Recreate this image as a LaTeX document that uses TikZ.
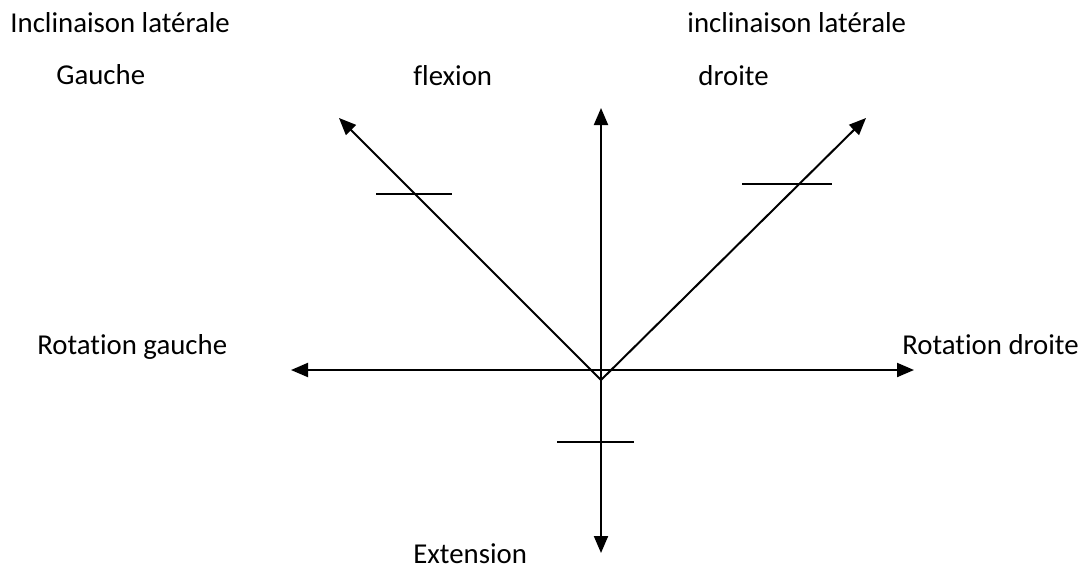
\documentclass[tikz,border=0pt]{standalone}
\usepackage{fontspec}
\setmainfont{Carlito}[Ligatures=NoCommon]
\usetikzlibrary{arrows.meta,positioning}

\begin{document}
\begin{tikzpicture}[
    x=0.5pt, y=-0.5pt,
    axis/.style={line width=1pt, -{Triangle[length=8.5pt,width=7pt]}},
    tick/.style={line width=1pt},
    lab/.style={font=\fontsize{14.4}{17}\selectfont, inner sep=0pt, anchor=base west}
]
\useasboundingbox (0,0) rectangle (1086,574);
% origin and axis ends
\coordinate (O) at (601,370);
\coordinate (V) at (601,380);
\coordinate (up) at (601,108);
\coordinate (down) at (601,553);
\coordinate (left) at (291,370);
\coordinate (right) at (914,370);
\coordinate (ul) at (339,118);
\coordinate (ur) at (866,118);

\draw[axis] (O) -- (up);
\draw[axis] (O) -- (down);
\draw[axis] (O) -- (left);
\draw[axis] (O) -- (right);
\draw[axis] (V) -- (ul);
\draw[axis] (V) -- (ur);

% ticks
\coordinate (tl1) at (376,194);
\coordinate (tl2) at (452,194);
\coordinate (tr1) at (742,184);
\coordinate (tr2) at (832,184);
\coordinate (tb1) at (557,442);
\coordinate (tb2) at (634,442);
\draw[tick] (tl1) -- (tl2);
\draw[tick] (tr1) -- (tr2);
\draw[tick] (tb1) -- (tb2);

% labels
\node[lab] (incl) at (10,32) {Inclinaison latérale};
\node[lab] (gauche) at (56,84) {Gauche};
\node[lab] (flex) at (413,85) {flexion};
\node[lab] (inclr) at (687,32) {inclinaison latérale};
\node[lab] (droite) at (698,85) {droite};
\node[lab] (rotg) at (37,354) {Rotation gauche};
\node[lab] (rotd) at (902,354) {Rotation droite};
\node[lab] (ext) at (413,563) {Extension};
\end{tikzpicture}
\end{document}
